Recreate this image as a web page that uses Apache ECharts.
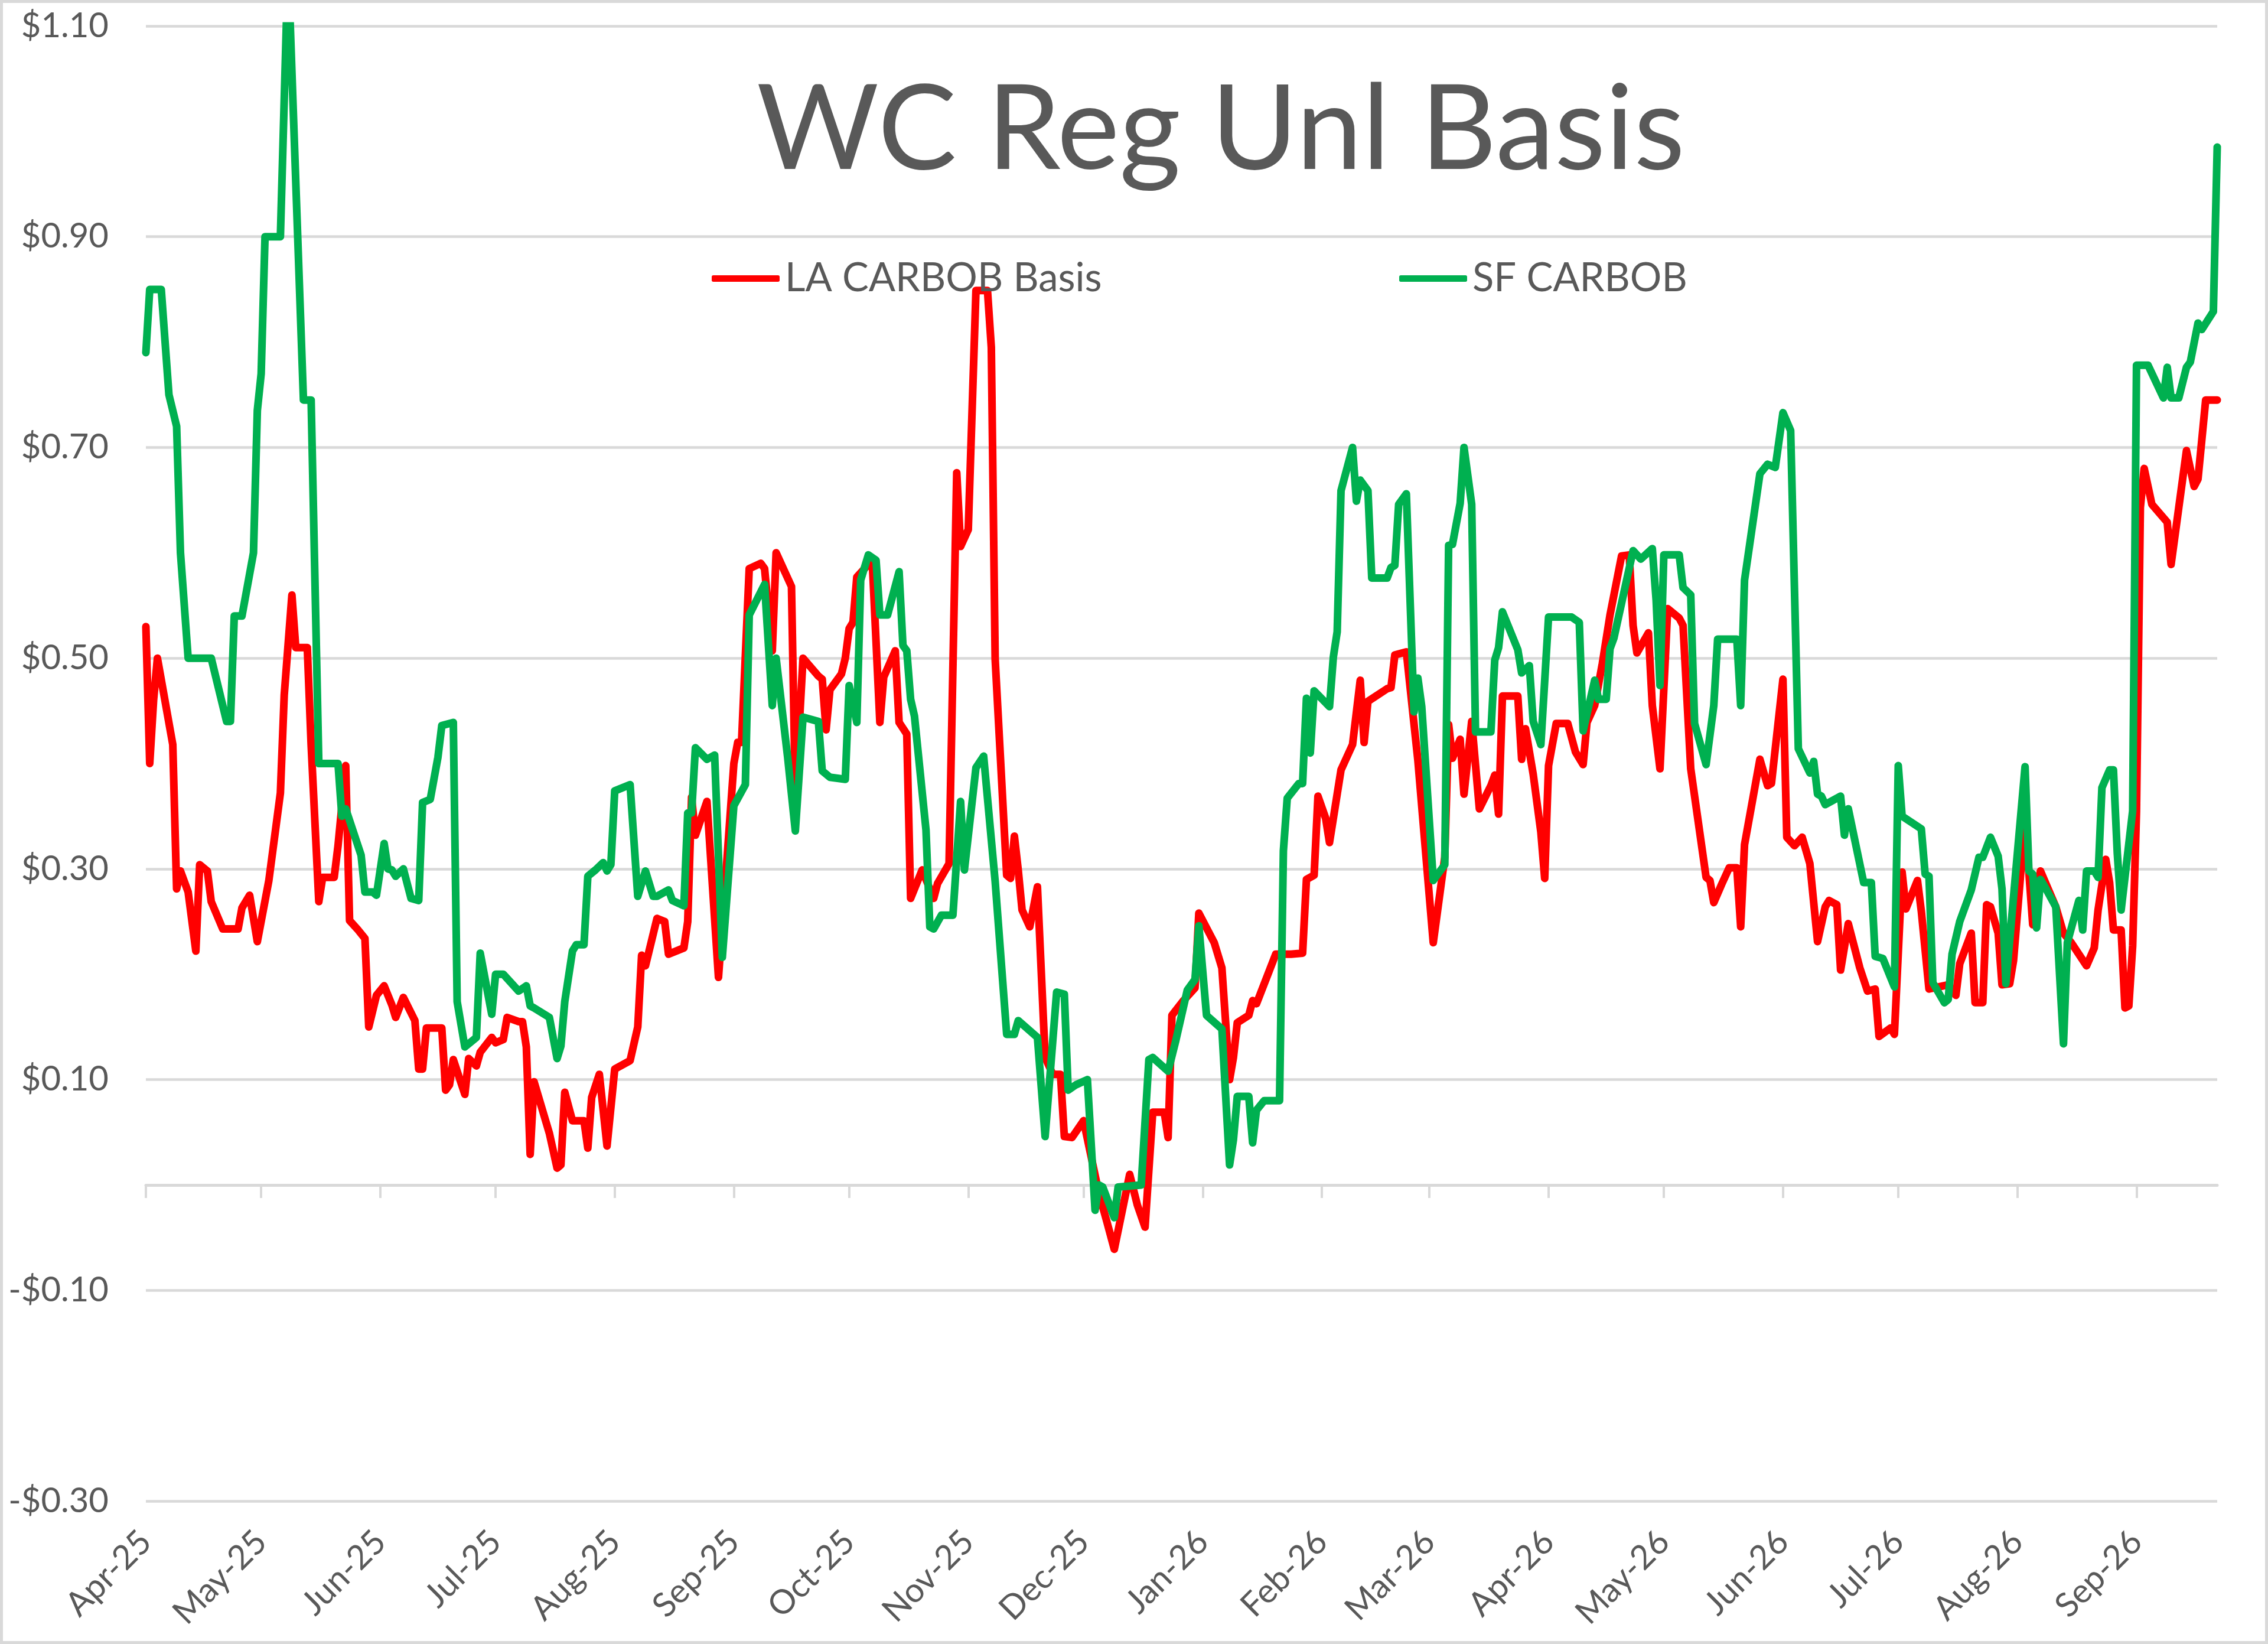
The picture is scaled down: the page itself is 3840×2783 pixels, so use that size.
<!DOCTYPE html>
<html>
<head>
<meta charset="utf-8">
<title>WC Reg Unl Basis</title>
<script src="https://cdn.jsdelivr.net/npm/echarts@6.0.0/dist/echarts.min.js"></script>
<style>
  html, body { margin: 0; padding: 0; background: #ffffff; }
  #chart_container { width: 3840px; height: 2783px; }
</style>
</head>
<body>
<div id="chart_container"></div>
<script>
// x values are days counted from 2025-04-01
const monthLabels = ["Apr-25", "May-25", "Jun-25", "Jul-25", "Aug-25", "Sep-25", "Oct-25", "Nov-25", "Dec-25",
    "Jan-26", "Feb-26", "Mar-26", "Apr-26", "May-26", "Jun-26", "Jul-26", "Aug-26", "Sep-26"]
const monthStartDays = [0, 30, 61, 91, 122, 153, 183, 214, 244, 275, 306, 334, 365, 395, 426, 456, 487, 518]
const lastDay = 539

const laDays = [0, 1, 2, 3, 7, 8, 9, 11, 13, 14, 16, 17, 20, 24, 25, 27, 29, 32, 35, 36, 38, 39, 42, 43, 45, 46, 49, 50, 52, 53,
    55, 57, 58, 60, 62, 64, 65, 67, 70, 71, 72, 73, 77, 78, 79, 80, 83, 84, 86, 87, 90, 91, 93, 94, 97, 98, 99, 100, 101, 105,
    107, 108, 109, 111, 114, 115, 116, 118, 120, 122, 126, 128, 129, 130, 133, 135, 136, 140, 141, 142, 143, 146, 149, 153, 154, 155, 157, 160, 161, 163,
    164, 168, 169, 171, 175, 176, 177, 178, 181, 182, 183, 184, 185, 189, 191, 192, 195, 196, 198, 199, 202, 205, 206, 209, 211, 212, 214, 216, 219, 220,
    221, 224, 225, 226, 227, 228, 230, 232, 234, 236, 238, 239, 241, 244, 248, 250, 252, 256, 258, 260, 262, 265, 266, 267, 270, 273, 274, 278, 280, 282,
    283, 284, 287, 288, 289, 294, 298, 301, 302, 304, 305, 307, 308, 311, 314, 316, 317, 318, 323, 324, 325, 328, 331, 335, 338, 339, 340, 342, 343, 345,
    347, 350, 351, 352, 353, 357, 358, 359, 361, 363, 364, 365, 367, 370, 372, 374, 375, 377, 379, 381, 384, 386, 387, 388, 391, 392, 394, 396, 399, 400,
    402, 406, 407, 408, 410, 412, 414, 415, 416, 420, 422, 423, 426, 427, 429, 431, 433, 435, 437, 438, 440, 441, 443, 446, 448, 450, 451, 454, 455, 457,
    458, 461, 462, 464, 469, 471, 472, 475, 476, 478, 479, 480, 482, 483, 485, 486, 489, 491, 493, 497, 499, 501, 505, 507, 508, 510, 511, 512, 514, 515,
    516, 517, 518, 519, 520, 522, 526, 527, 531, 533, 534, 536, 539]
const laBasis = [0.53, 0.40, 0.46, 0.50, 0.418, 0.281, 0.298, 0.278, 0.222, 0.304, 0.298, 0.269, 0.243, 0.243, 0.263, 0.275, 0.231, 0.289, 0.372, 0.465, 0.56, 0.51, 0.51, 0.418, 0.269, 0.292, 0.292, 0.322, 0.398, 0.251,
    0.243, 0.234, 0.15, 0.18, 0.189, 0.171, 0.159, 0.178, 0.156, 0.11, 0.11, 0.149, 0.149, 0.09, 0.095, 0.119, 0.086, 0.12, 0.113, 0.126, 0.14, 0.135, 0.138, 0.159, 0.155, 0.155, 0.131, 0.029, 0.098, 0.049,
    0.016, 0.019, 0.088, 0.061, 0.061, 0.035, 0.083, 0.105, 0.037, 0.11, 0.118, 0.15, 0.218, 0.208, 0.253, 0.25, 0.219, 0.225, 0.25, 0.368, 0.332, 0.364, 0.197, 0.40, 0.42, 0.42, 0.585, 0.59, 0.585, 0.507,
    0.60, 0.568, 0.37, 0.50, 0.483, 0.48, 0.432, 0.47, 0.485, 0.50, 0.528, 0.534, 0.577, 0.593, 0.439, 0.482, 0.507, 0.439, 0.428, 0.272, 0.299, 0.272, 0.286, 0.305, 0.676, 0.606, 0.622, 0.849, 0.849, 0.795,
    0.499, 0.294, 0.291, 0.331, 0.299, 0.261, 0.245, 0.283, 0.121, 0.105, 0.105, 0.046, 0.045, 0.061, -0.008, -0.034, -0.061, 0.01, -0.019, -0.04, 0.069, 0.069, 0.045, 0.161, 0.175, 0.187, 0.258, 0.23, 0.206, 0.10,
    0.121, 0.154, 0.161, 0.175, 0.172, 0.219, 0.219, 0.22, 0.29, 0.294, 0.369, 0.348, 0.325, 0.394, 0.418, 0.479, 0.42, 0.459, 0.471, 0.472, 0.503, 0.506, 0.403, 0.23, 0.311, 0.437, 0.405, 0.423, 0.371, 0.44,
    0.357, 0.379, 0.389, 0.352, 0.464, 0.464, 0.404, 0.433, 0.39, 0.335, 0.291, 0.398, 0.438, 0.438, 0.411, 0.399, 0.439, 0.455, 0.495, 0.541, 0.597, 0.598, 0.531, 0.505, 0.524, 0.455, 0.395, 0.547, 0.538, 0.531,
    0.395, 0.292, 0.289, 0.268, 0.285, 0.301, 0.301, 0.245, 0.323, 0.404, 0.379, 0.381, 0.48, 0.33, 0.322, 0.33, 0.305, 0.231, 0.264, 0.27, 0.266, 0.204, 0.248, 0.206, 0.184, 0.186, 0.141, 0.149, 0.143, 0.297,
    0.262, 0.289, 0.26, 0.186, 0.19, 0.18, 0.21, 0.239, 0.173, 0.173, 0.266, 0.264, 0.239, 0.19, 0.191, 0.213, 0.346, 0.247, 0.298, 0.264, 0.239, 0.23, 0.208, 0.225, 0.261, 0.309, 0.287, 0.242, 0.242, 0.168,
    0.17, 0.227, 0.355, 0.643, 0.68, 0.646, 0.629, 0.589, 0.697, 0.663, 0.67, 0.745, 0.745]

const sfDays = [0, 1, 4, 6, 8, 9, 11, 14, 17, 21, 22, 23, 25, 28, 29, 30, 31, 35, 37, 41, 43, 45, 50, 51, 52, 56, 57, 59, 60, 62,
    63, 64, 65, 67, 69, 71, 72, 74, 76, 77, 80, 81, 83, 86, 87, 90, 91, 93, 97, 99, 100, 101, 105, 107, 108, 109, 111, 112, 114, 115,
    117, 119, 120, 121, 122, 126, 128, 130, 132, 133, 136, 137, 140, 141, 142, 143, 146, 148, 150, 153, 156, 157, 161, 163, 164, 167, 169, 171, 175, 176,
    178, 182, 183, 185, 186, 188, 190, 191, 193, 196, 197, 198, 199, 200, 203, 204, 205, 207, 210, 212, 213, 216, 218, 221, 224, 226, 227, 232, 234, 237,
    239, 240, 242, 245, 247, 248, 249, 252, 253, 259, 261, 262, 266, 268, 271, 273, 274, 276, 280, 282, 283, 284, 287, 288, 289, 291, 295, 296, 297, 300,
    301, 302, 303, 304, 308, 309, 310, 311, 314, 315, 316, 318, 319, 323, 324, 325, 326, 328, 330, 331, 332, 335, 338, 339, 340, 342, 343, 345, 346, 350,
    351, 352, 353, 357, 358, 360, 361, 363, 365, 371, 373, 374, 377, 378, 380, 381, 382, 387, 389, 392, 393, 394, 395, 399, 400, 402, 403, 406, 408, 409,
    414, 415, 416, 420, 422, 424, 426, 428, 430, 433, 434, 435, 436, 437, 441, 442, 443, 447, 449, 450, 452, 455, 456, 457, 462, 463, 464, 465, 468, 469,
    470, 472, 475, 477, 478, 480, 482, 483, 484, 489, 490, 491, 492, 493, 494, 497, 499, 500, 503, 504, 505, 507, 508, 509, 511, 512, 513, 514, 517, 518,
    521, 525, 526, 527, 529, 531, 532, 534, 535, 538, 539]
const sfCarbob = [0.79, 0.85, 0.85, 0.75, 0.72, 0.60, 0.50, 0.50, 0.50, 0.44, 0.44, 0.54, 0.54, 0.60, 0.735, 0.77, 0.90, 0.90, 1.16, 0.745, 0.745, 0.40, 0.40, 0.35, 0.357, 0.313, 0.278, 0.278, 0.275, 0.324,
    0.30, 0.299, 0.293, 0.30, 0.272, 0.27, 0.363, 0.366, 0.406, 0.436, 0.439, 0.174, 0.131, 0.14, 0.22, 0.162, 0.20, 0.20, 0.184, 0.189, 0.17, 0.168, 0.159, 0.12, 0.132, 0.174, 0.222, 0.228, 0.228, 0.293,
    0.299, 0.306, 0.298, 0.304, 0.374, 0.38, 0.274, 0.298, 0.274, 0.274, 0.28, 0.27, 0.265, 0.353, 0.353, 0.415, 0.404, 0.408, 0.216, 0.36, 0.38, 0.541, 0.57, 0.455, 0.50, 0.406, 0.336, 0.444, 0.44, 0.393,
    0.387, 0.385, 0.474, 0.439, 0.574, 0.598, 0.593, 0.541, 0.541, 0.582, 0.512, 0.507, 0.461, 0.445, 0.337, 0.245, 0.243, 0.256, 0.256, 0.364, 0.299, 0.396, 0.407, 0.288, 0.143, 0.143, 0.156, 0.14, 0.046, 0.183,
    0.181, 0.09, 0.095, 0.10, -0.024, 0.0, -0.002, -0.031, -0.002, 0.0, 0.119, 0.121, 0.108, 0.137, 0.185, 0.195, 0.246, 0.161, 0.148, 0.019, 0.043, 0.084, 0.084, 0.04, 0.071, 0.08, 0.08, 0.317, 0.367, 0.381,
    0.381, 0.462, 0.41, 0.469, 0.454, 0.501, 0.525, 0.659, 0.70, 0.649, 0.669, 0.659, 0.576, 0.576, 0.586, 0.588, 0.646, 0.656, 0.449, 0.481, 0.454, 0.289, 0.304, 0.607, 0.608, 0.647, 0.70, 0.646, 0.43, 0.43,
    0.498, 0.51, 0.544, 0.508, 0.486, 0.493, 0.44, 0.418, 0.539, 0.539, 0.534, 0.431, 0.479, 0.461, 0.461, 0.509, 0.519, 0.602, 0.594, 0.604, 0.555, 0.474, 0.598, 0.598, 0.567, 0.56, 0.438, 0.399, 0.455, 0.518,
    0.518, 0.455, 0.574, 0.675, 0.684, 0.681, 0.733, 0.716, 0.414, 0.391, 0.402, 0.371, 0.369, 0.361, 0.369, 0.332, 0.357, 0.287, 0.287, 0.217, 0.215, 0.188, 0.398, 0.35, 0.338, 0.295, 0.293, 0.192, 0.173, 0.176,
    0.219, 0.25, 0.28, 0.311, 0.311, 0.33, 0.312, 0.281, 0.191, 0.397, 0.298, 0.295, 0.244, 0.29, 0.284, 0.264, 0.134, 0.23, 0.27, 0.242, 0.298, 0.298, 0.292, 0.377, 0.394, 0.394, 0.315, 0.261, 0.355, 0.778,
    0.778, 0.747, 0.776, 0.747, 0.747, 0.776, 0.781, 0.818, 0.812, 0.829, 0.985]

const fontName = "Lato"
const textGray = "#595959"
const lineGray = "#d9d9d9"
const laColor = "#ff0000"
const sfColor = "#00b050"

function pairUp(days, values){
    let out = []
    for (let i = 0; i < days.length; i++){
        out.push([days[i], values[i]])
    }
    return out
}

function dollarLabel(v){
    let s = "$" + Math.abs(v).toFixed(2)
    return v < -0.0001 ? "-" + s : s
}

function monthLabel(v){
    let i = monthStartDays.indexOf(Math.round(v))
    return i >= 0 ? monthLabels[i] : ""
}

function legendBox(name, left){
    return {
        data: [name], left: left, top: 433,
        itemWidth: 115, itemHeight: 11, icon: "roundRect", itemGap: 0,
        textStyle: { fontFamily: fontName, fontSize: 67, color: textGray, padding: [0, 0, 0, 4] }
    }
}

let chart = echarts.init(document.getElementById("chart_container"))

let option = {
    backgroundColor: "#ffffff",
    animation: false,
    title: {
        text: "WC Reg Unl Basis",
        left: 2062,
        top: 116,
        textAlign: "center",
        textStyle: { fontFamily: fontName, fontSize: 200, fontWeight: "normal", color: textGray }
    },
    legend: [
        legendBox("LA CARBOB Basis", 1200),
        legendBox("SF CARBOB", 2364)
    ],
    grid: { left: 247, right: 86, top: 44, bottom: 242, containLabel: false },
    xAxis: [
        {
            // month labels along the bottom of the plot
            type: "value", min: 0, max: lastDay, position: "bottom",
            axisLine: { show: false, onZero: false },
            axisTick: { show: false },
            splitLine: { show: false },
            axisLabel: {
                customValues: monthStartDays,
                formatter: monthLabel,
                rotate: 45, margin: 60,
                fontFamily: fontName, fontSize: 57, color: textGray
            }
        },
        {
            // the horizontal axis line itself sits at $0.00
            type: "value", min: 0, max: lastDay, position: "bottom",
            axisLine: { show: true, onZero: true, lineStyle: { color: lineGray, width: 5 } },
            axisTick: { show: true, customValues: monthStartDays, length: 22, inside: false, lineStyle: { color: lineGray, width: 4 } },
            axisLabel: { show: false },
            splitLine: { show: false }
        }
    ],
    yAxis: {
        type: "value", min: -0.3, max: 1.1, interval: 0.2,
        axisLine: { show: false, onZero: false },
        axisTick: { show: false },
        splitLine: { show: true, lineStyle: { color: lineGray, width: 4.5 } },
        axisLabel: { formatter: dollarLabel, margin: 63, fontFamily: fontName, fontSize: 58, color: textGray }
    },
    graphic: [
        { type: "rect", shape: { x: 2.5, y: 2.5, width: 3835, height: 2778 }, style: { fill: "none", stroke: lineGray, lineWidth: 5 }, silent: true }
    ],
    series: [
        {
            name: "LA CARBOB Basis", type: "line", xAxisIndex: 0, yAxisIndex: 0,
            data: pairUp(laDays, laBasis),
            symbol: "none", showSymbol: false, clip: true,
            color: laColor,
            itemStyle: { color: laColor },
            lineStyle: { color: laColor, width: 13, cap: "round", join: "round" }
        },
        {
            name: "SF CARBOB", type: "line", xAxisIndex: 0, yAxisIndex: 0,
            data: pairUp(sfDays, sfCarbob),
            symbol: "none", showSymbol: false, clip: true,
            color: sfColor,
            itemStyle: { color: sfColor },
            lineStyle: { color: sfColor, width: 13, cap: "round", join: "round" }
        }
    ]
}

if (chart){
    chart.setOption(option)
} else {
    console.error("Echart instance failed to init")
}
</script>
</body>
</html>
